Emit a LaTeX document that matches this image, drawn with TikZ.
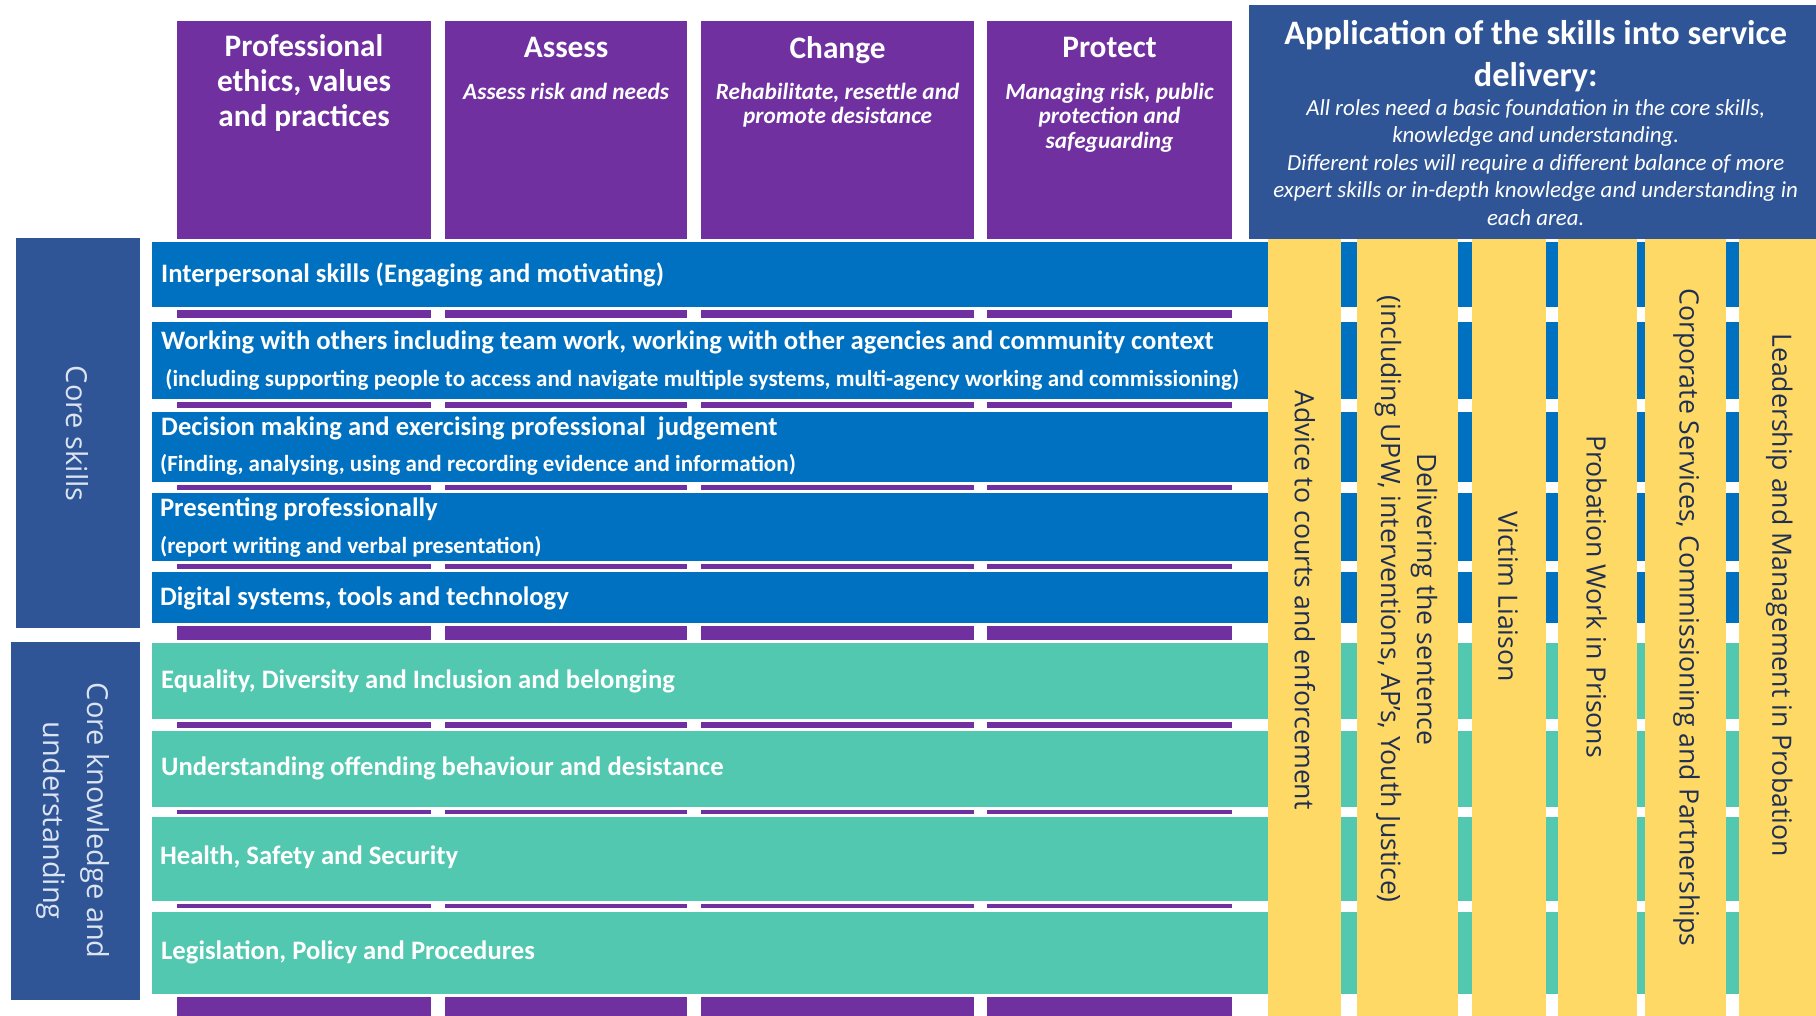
\documentclass[tikz,border=0pt]{standalone}
\usepackage{fontspec}
\setmainfont{Carlito}
\newfontfamily\rolefont{Open Sans}
\definecolor{purp}{HTML}{7030A0}
\definecolor{skillblue}{HTML}{0070C0}
\definecolor{knowteal}{HTML}{52C8B0}
\definecolor{navy}{HTML}{2F5597}
\definecolor{gold}{HTML}{FFD966}
\definecolor{roletext}{HTML}{1F2F52}
\definecolor{labeltext}{HTML}{DCE4F2}

\begin{document}
\begin{tikzpicture}[x=1pt,y=-1pt,
  coltitle/.style={font=\bfseries\fontsize{27}{30}\selectfont,text=white,align=center,inner sep=0,anchor=north},
  coltag/.style={font=\bfseries\itshape\fontsize{20.1}{21.2}\selectfont,text=white,align=center,inner sep=0,anchor=north},
  boxtitle/.style={font=\bfseries\fontsize{29.6}{36}\selectfont,text=white,align=center,inner sep=0,anchor=north},
  boxnote/.style={font=\itshape\fontsize{19.8}{23.8}\selectfont,text=white,align=center,inner sep=0,anchor=north},
  rowlabel/.style={font=\bfseries\fontsize{23}{27}\selectfont,text=white,anchor=base west,inner sep=0},
  rowsub/.style={font=\bfseries\fontsize{19.9}{23}\selectfont,text=white,anchor=base west,inner sep=0},
  role/.style={font=\rolefont\fontsize{23}{31}\selectfont,text=roletext,rotate=-90,align=center,inner sep=0},
  grouplabel/.style={font=\rolefont\fontsize{25}{38}\selectfont,text=labeltext,rotate=-90,align=center,inner sep=0}]

\useasboundingbox (0,0) rectangle (1568,877);
\fill[white] (0,0) rectangle (1568,877);

% purple pillars, running behind the skill bands
\foreach \a/\b in {153/372,384/593.5,605.5/841,852.5/1063.5}
  \fill[purp] (\a,18.5) rectangle (\b,877);

% skill and knowledge bands, each with a thin white margin
\foreach \t/\b/\c in {208.7/264.8/skillblue,277.7/344.8/skillblue,355.4/415.9/skillblue,
    425.4/484.4/skillblue,493.6/538.2/skillblue,554.9/621/knowteal,631.2/696.5/knowteal,
    705.1/777.9/knowteal,787.1/858.5/knowteal}{
  \fill[white] (128.4,\t-2.7) rectangle (1570,\b+2.5);
  \fill[\c] (131,\t) rectangle (1570,\b);
}

% service delivery header and role columns
\fill[navy] (1078,4.3) rectangle (1568,206.6);
\foreach \a/\b in {1094.5/1158,1171.5/1258.5,1270.6/1334.7,1345.2/1413.4,1420.7/1490.2,1501.4/1568}
  \fill[gold] (\a,206.6) rectangle (\b,877);

% group boxes on the left
\fill[navy] (13.5,205.8) rectangle (120.6,542.5);
\fill[navy] (9.6,554) rectangle (120.6,863.4);

% column headings
\node[coltitle] (ethics) at (262.5,30) {Professional\\ethics, values\\and practices};
\node[coltitle] (assess) at (488.8,31.7) {Assess};
\node[coltag] (assesstag) at (488.8,71.5) {Assess risk and needs};
\node[coltitle] (change) at (723.2,31.7) {Change};
\node[coltag] (changetag) at (723.2,71.5) {Rehabilitate, resettle and\\promote desistance};
\node[coltitle] (protect) at (958,31.7) {Protect};
\node[coltag] (protecttag) at (958,71.5) {Managing risk, public\\protection and\\safeguarding};

% service delivery text
\node[boxtitle] (apptitle) at (1326,17.5) {Application of the skills into service\\delivery:};
\node[boxnote] (appnote) at (1326,85.5) {All roles need a basic foundation in the core skills,\\knowledge and understanding.\\Different roles will require a different balance of more\\expert skills or in-depth knowledge and understanding in\\each area.};

% band labels
\node[rowlabel] (interp) at (139,244) {Interpersonal skills (Engaging and motivating)};
\node[rowlabel] (working) at (139,302.2) {Working with others including team work, working with other agencies and community context};
\node[rowsub] (workingsub) at (142.6,333.3) {(including supporting people to access and navigate multiple systems, multi-agency working and commissioning)};
\node[rowlabel] (decision) at (139,375.6) {Decision making and exercising professional\ \ judgement};
\node[rowsub] (decisionsub) at (138,407.3) {(Finding, analysing, using and recording evidence and information)};
\node[rowlabel] (present) at (138,446.1) {Presenting professionally};
\node[rowsub] (presentsub) at (138,477.8) {(report writing and verbal presentation)};
\node[rowlabel] (digital) at (138,522.4) {Digital systems, tools and technology};
\node[rowlabel] (equality) at (139,594.3) {Equality, Diversity and Inclusion and belonging};
\node[rowlabel] (offending) at (139,670) {Understanding offending behaviour and desistance};
\node[rowlabel] (health) at (138,746.8) {Health, Safety and Security};
\node[rowlabel] (legis) at (139,828.3) {Legislation, Policy and Procedures};

% group labels
\node[grouplabel] (coreskills) at (66.5,374.5) {Core skills};
\node[grouplabel] (coreknow) at (63,708.7) {Core knowledge and\\understanding};

% role columns
\node[role] (courts) at (1126.8,518) {Advice to courts and enforcement};
\node[role] (sentence) at (1214,517.5) {Delivering the sentence\\(including UPW, interventions, AP’s, Youth Justice)};
\node[role] (victim) at (1302,515.2) {Victim Liaison};
\node[role] (prisons) at (1378.5,515.2) {Probation Work in Prisons};
\node[role] (corporate) at (1456.3,533) {Corporate Services, Commissioning and Partnerships};
\node[role] (leader) at (1536.3,513.8) {Leadership and Management in Probation};
\end{tikzpicture}
\end{document}
